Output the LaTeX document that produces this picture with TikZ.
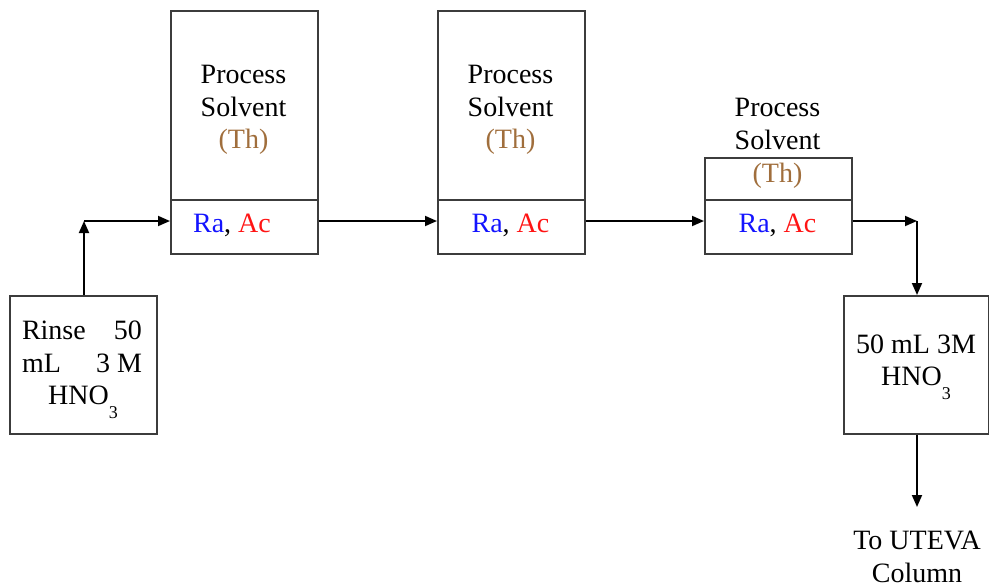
\documentclass[tikz,border=0pt]{standalone}
\usepackage{fontspec}
\setmainfont{Liberation Serif}
\usetikzlibrary{arrows.meta}
\definecolor{thbrown}{RGB}{160,110,60}
\definecolor{raBlue}{RGB}{20,20,255}
\definecolor{acRed}{RGB}{255,20,20}
\definecolor{frame}{RGB}{60,60,60}
\newcommand{\hno}{HNO\raisebox{-14pt}{\fontsize{18}{18}\selectfont 3}}
\newcommand{\raac}{\textcolor{raBlue}{Ra}, \textcolor{acRed}{Ac}}
\tikzset{
  box/.style={draw=frame, line width=1.7pt, rectangle, inner sep=0pt, anchor=north west},
  txt/.style={anchor=base, inner sep=0pt, font=\fontsize{28}{32}\selectfont},
  arr/.style={line width=1.8pt, -{Triangle[length=12pt,width=10pt]}},
}
\begin{document}
\begin{tikzpicture}[x=1pt,y=-1pt]
\useasboundingbox (0,0) rectangle (989,587);

% boxes
\node[box, minimum width=147pt, minimum height=138pt] (rinse) at (9,295) {};
\node[box, minimum width=147pt, minimum height=243pt] (b1) at (170,10) {};
\node[box, minimum width=147pt, minimum height=243pt] (b2) at (437,10) {};
\node[box, minimum width=147pt, minimum height=96pt] (b3) at (704,157) {};
\node[box, minimum width=145pt, minimum height=138pt] (acid) at (843,295) {};

% dividers between organic and aqueous parts
\foreach \b in {b1,b2,b3}
  \draw[frame, line width=1.7pt] (\b.west |- 0,200) -- (\b.east |- 0,200);

% text in the boxes
\node[txt] (r1) at (82,339) {\makebox[120pt]{Rinse\hfill 50}};
\node[txt] (r2) at (82,372) {\makebox[120pt]{mL\hfill 3 M}};
\node[txt] (r3) at (83,404) {\hno};

\node[txt] (p1) at (243.5,83) {Process};
\node[txt] (s1) at (243.5,116) {Solvent};
\node[txt, text=thbrown] (t1) at (243.5,148) {(Th)};
\node[txt] (a1) at (232,232) {\raac};

\node[txt] (p2) at (510.5,83) {Process};
\node[txt] (s2) at (510.5,116) {Solvent};
\node[txt, text=thbrown] (t2) at (510.5,148) {(Th)};
\node[txt] (a2) at (510.5,232) {\raac};

\node[txt] (p3) at (777.5,116) {Process};
\node[txt] (s3) at (777.5,149) {Solvent};
\node[txt, text=thbrown] (t3) at (777.5,182) {(Th)};
\node[txt] (a3) at (777.5,232) {\raac};

\node[txt] (m1) at (916,353) {50 mL 3M};
\node[txt] (m2) at (916,385) {\hno};

\node[txt] (u1) at (917,549) {To UTEVA};
\node[txt] (u2) at (917,582) {Column};

% connectors
\coordinate (c1) at (84,221);
\coordinate (c2) at (917,221);
\coordinate (c3) at (917,507);

\draw[arr] (rinse.north -| c1) -- (c1);
\draw[arr] (c1) -- (b1.west |- c1);
\draw[arr] (b1.east |- c1) -- (b2.west |- c1);
\draw[arr] (b2.east |- c1) -- (b3.west |- c1);
\draw[arr] (b3.east |- c2) -- (c2);
\draw[arr] (c2) -- (acid.north -| c2);
\draw[arr] (acid.south -| c3) -- (c3);
\end{tikzpicture}
\end{document}
